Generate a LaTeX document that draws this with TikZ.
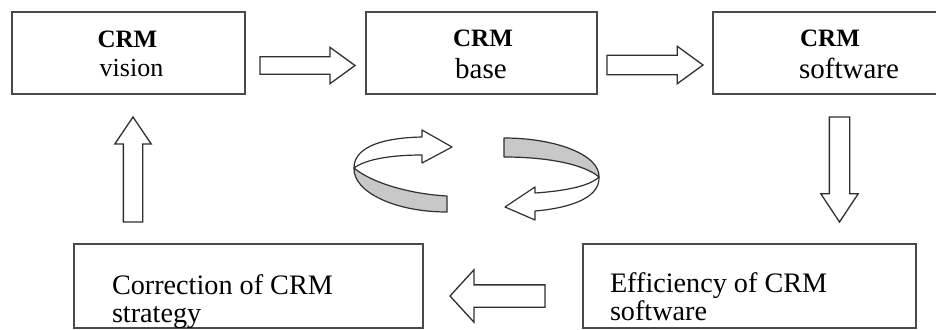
\documentclass[tikz,border=0pt]{standalone}
\usepackage{fontspec}
\setmainfont{Liberation Serif}
\usetikzlibrary{shapes.arrows,calc}
\definecolor{boxc}{HTML}{4A4A4A}
\definecolor{arrowc}{HTML}{303030}
\definecolor{bandc}{HTML}{C8C8C8}
\tikzset{
  boxnode/.style={rectangle, draw=boxc, line width=1.8pt, fill=none, inner sep=0pt, outer sep=0pt},
  txt/.style={inner sep=0pt, outer sep=0pt, text=black},
  blockarrow/.style={single arrow, draw=arrowc, line width=1.3pt, fill=white, inner xsep=0pt, outer sep=0pt, single arrow head indent=0pt, anchor=tail},
  band/.style={draw=arrowc, line width=1.2pt, line join=round},
}
\newcommand{\fsA}{\fontsize{25}{28}\selectfont}
\newcommand{\fsB}{\fontsize{26}{29}\selectfont}
\newcommand{\fsC}{\fontsize{29}{31}\selectfont}
\newcommand{\fsD}{\fontsize{28.2}{30}\selectfont}
\begin{document}
\begin{tikzpicture}[x=1pt,y=-1pt]
\useasboundingbox (0,0) rectangle (936,329);
\clip (0,0) rectangle (936,329);
\fill[white] (0,0) rectangle (936,329);
% boxes
\node[boxnode, minimum width=233pt, minimum height=82pt] (b1) at (128.5,53) {};
\node[boxnode, minimum width=231pt, minimum height=82pt] (b2) at (481.5,53) {};
\node[boxnode, minimum width=252pt, minimum height=82pt] (b3) at (839,53) {};
\node[boxnode, minimum width=349pt, minimum height=84pt] (b4) at (248.5,286) {};
\node[boxnode, minimum width=333pt, minimum height=84pt] (b5) at (749.5,286) {};
% texts
\node[txt, anchor=base] (t1a) at (127.5,48) {\fsA\bfseries CRM};
\node[txt, anchor=base] (t1b) at (131.5,77) {\fsB vision};
\node[txt, anchor=base] (t2a) at (483,47) {\fsA\bfseries CRM};
\node[txt, anchor=base] (t2b) at (481,78) {\fsC base};
\node[txt, anchor=base] (t3a) at (830,47) {\fsA\bfseries CRM};
\node[txt, anchor=base] (t3b) at (849,78) {\fsC software};
\node[txt, anchor=base west] (t4a) at (112,294) {\fsD Correction of CRM};
\node[txt, anchor=base west] (t4b) at (112,322) {\fsD strategy};
\node[txt, anchor=base west] (t5a) at (610,292) {\fsD Efficiency of CRM};
\node[txt, anchor=base west] (t5b) at (610,320) {\fsD software};
% block arrows (placed by their tails)
\node[blockarrow, minimum height=95pt, inner ysep=8pt, single arrow head extend=9.5pt, single arrow tip angle=72] (a1) at (260,65.5) {};
\node[blockarrow, minimum height=96pt, inner ysep=9pt, single arrow head extend=9pt, single arrow tip angle=72] (a2) at (607,65) {};
\node[blockarrow, minimum height=105pt, inner ysep=9.5pt, single arrow head extend=8.5pt, single arrow tip angle=67, rotate=-90] (a3) at (839.5,117) {};
\node[blockarrow, minimum height=105pt, inner ysep=9pt, single arrow head extend=8.5pt, single arrow tip angle=68, rotate=90] (a4) at (133,222) {};
\node[blockarrow, minimum height=95pt, inner ysep=10.5pt, single arrow head extend=15pt, single arrow tip angle=95, rotate=180] (a5) at (545,296) {};
% circular arrows (left piece)
\coordinate (X) at (354,168);
\filldraw[band, fill=bandc] (X) .. controls (372,183) and (410,194) .. (447,196) -- (447,212)
  .. controls (395,212) and (353,192) .. (X) -- cycle;
\filldraw[band, fill=white] (X) .. controls (354,150) and (375,138) .. (422,137) -- (422,130) -- (452,147)
  -- (422,163) -- (422,155) .. controls (392,155) and (366,159) .. (X) -- cycle;
% circular arrows (right piece)
\coordinate (Y) at (599,177);
\filldraw[band, fill=bandc] (504,138) .. controls (556,138) and (600,155) .. (Y)
  .. controls (585,165) and (550,157) .. (504,157) -- cycle;
\filldraw[band, fill=white] (Y) .. controls (600,198) and (570,208) .. (535,211) -- (535,220) -- (505,207)
  -- (535,187) -- (535,193) .. controls (565,191) and (590,186) .. (Y) -- cycle;
\end{tikzpicture}
\end{document}
